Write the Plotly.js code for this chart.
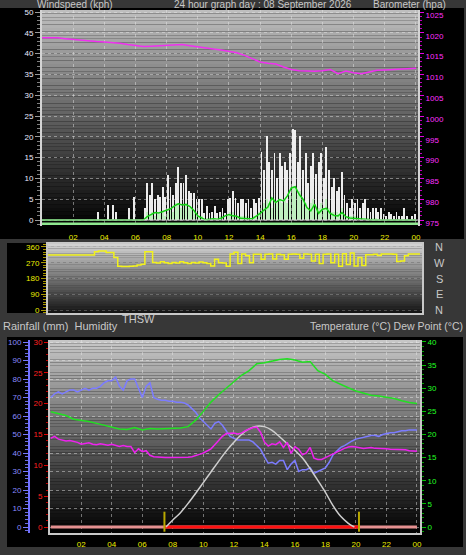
<!DOCTYPE html>
<html><head><meta charset="utf-8">
<script src="https://cdn.plot.ly/plotly-3.0.1.min.js"></script>
<style>html,body{margin:0;padding:0;background:#373737;}#chart{width:466px;height:555px;}</style>
</head><body><div id="chart"></div>
<script>
// ---------------- DATA ----------------
const hourTicks = [2,4,6,8,10,12,14,16,18,20,22,24];
const hourLabels = ['02','04','06','08','10','12','14','16','18','20','22','00'];
const dirTicks = [0,90,180,270,360];
const dirLetters = ['N','E','S','W','N'];

// wind gust (kph), 10-minute samples from 00:00
const windGust = [
 0,0,0,0,0,0, 0,0,0,0,0,0, 0,0,0,0,0,0, 0,0,0,2,0,0,
 0,3.5,0,3.5,2,0, 0,0,0,3,0,5.5, 0,0,0,3,9,6, 9,5,6,5.5,8,5.5,
 10.8,8,6,9,12.7,9, 9,10.8,7,6.5,6.5,5, 5,5,1.6,3.4,1.6,2, 3.4,1.6,2,3,1.6,5,
 5.3,7,5.3,4,5,5, 4,5,3,5,4,5.3, 16.4,12,20.2,14,12,16, 10,16,13,14,12,16,
 22,21.6,14,20.2,12,16, 9,13,16,11,14,16, 10,17.6,12,8,10,7, 8,11.6,6,4,3,5,
 4,5,3,4,5,3, 2,3,3,2,3,1.5, 1,2,1.5,1,2,1, 1,3,1,0,1,1.5
];
// wind speed (kph), 10-minute samples
const windSpeed = [
 0,0,0,0,0,0, 0,0,0,0,0,0, 0,0,0,0,0,0, 0,0,0,0,0,0,
 0,0,0,0,0,0, 0,0,0,0,0,0, 0,0,0,0,2,1, 2,1,2,1.5,2,1,
 2,3,2,4,4,3, 4,4,3,3,2,1, 1,1,0,0.5,0,0.5, 0.5,0,1,1,0,1,
 2,2,1,1,1,1, 1,1,0,1,1,2, 3,4,5,4,3,5, 4,5,4,5,4,6,
 8,8,6,7,5,4, 3,4,5,3,3,4, 3,5,3,2,2,2, 1,3,1,1,1,1,
 1,1,0.5,0.5,0.5,0.5, 0,0.5,0.5,0,0,0, 0,0,0,0,0,0, 0,0,0,0,0,0
];
// average wind (kph), 15-minute samples
const windAvg = [
 0,0,0,0,0,0,0,0,0,0, 0,0,0,0,0,0,0,0,0,0, 0,0,0,0,0,0,
 0,0.8,1.4,1.8,1.7,2.0,2.4,2.7,3.4,3.9,
 3.6,3.7,3.2,2.3,1.0,0.4,0,0.2,0.3,0.2,
 0.4,1.0,1.3,1.0,0.9,0.4,0.3,0.3,0.3,0.9,
 1.6,2.4,3.1,5.3,4.2,4.9,4.6,5.8,7.7,8.0,
 6.2,5.0,3.0,2.2,3.8,1.6,2.6,2.8,1.6,1.1,
 1.0,1.8,0.8,0.5,0.4,0.4,0.3,0.1,0,
 0,0,0,0,0,0,0,0,0,0,0,0
];
// barometer (hpa), 30-minute samples
const barometer = [
 1018.8,1018.8,1018.8,1018.6,1018.4,1018.2,1018.0,1017.9,1017.8,1017.7,
 1017.5,1017.2,1016.9,1016.7,1016.8,1016.9,1017.0,1017.1,1017.2,1016.9,
 1016.6,1016.4,1016.1,1015.9,1015.5,1015.2,1014.6,1013.8,1013.0,1012.7,
 1012.5,1011.8,1011.2,1010.9,1010.8,1010.8,1010.9,1011.2,1010.2,1010.8,
 1010.4,1010.2,1010.6,1011.0,1011.1,1011.2,1011.3,1011.5,1011.5
];
// wind direction (deg), 15-minute samples
const windDir = [
 314,314,314,314,314,314,314,314,314,314,314,314,
 333,337,337,328,328,300,250,248,248,250,
 252,257,262,333,333,271,268,275,270,265,
 272,268,276,270,266,272,268,274,270,266,
 252,290,270,268,250,320,330,265,320,310,
 270,318,318,290,318,320,292,318,316,290,
 318,320,318,295,320,318,280,318,265,318,
 320,270,318,250,322,260,325,252,300,254,
 315,315,318,312,320,320,320,318,277,280,
 310,320,320,320,320
];
// humidity (%), 15-minute samples
const humidity = [
 70,72,73,72,73,74,74,73,74,75,
 74,75,75,76,78,79,79,81,76,74,
 79,80,80,75,70,76,78,70,69,68.5,
 68.5,68,68,67.5,67.5,67,66,64,62,59,
 57,55,53,56,57,55,52,49,48,47,
 47,47,47,46,44,42,38,34.5,35,34,
 36,36,31,34,36,30,31,31,32,29,
 30,31,32,35,39,41,43,44,45.5,46.5,
 47.5,48,48.5,49,49.5,49.5,49,50,50.5,51,
 51,51.5,52,52,52.5,52.5,52.5
];
// temperature (°C), 30-minute samples
const temperature = [
 24.9,24.5,24.1,23.3,23.1,22.8,22.4,22.0,21.5,21.2,
 21.1,21.5,21.0,21.3,21.2,21.3,21.3,21.4,21.7,23.1,
 25.0,27.0,28.6,30.0,31.4,32.8,33.8,35.3,35.5,35.9,
 36.2,36.4,36.1,35.6,35.8,33.8,33.0,31.6,30.8,30.1,
 29.4,28.9,28.5,28.3,28.0,27.8,27.3,26.9,26.7
];
// dew point (°C), 15-minute samples
const dewPoint = [
 19.2,19.6,19.0,18.8,18.6,18.7,18.5,18.3,17.9,18.0,
 18.2,17.9,17.8,18.0,17.8,17.7,17.9,17.6,17.4,17.6,
 17.4,17.4,16.1,16.9,16.3,16.5,15.5,15.2,15.1,15.1,
 15.0,15.0,15.0,15.0,15.0,15.0,15.1,15.2,15.4,15.7,
 16.0,16.4,16.9,17.8,18.8,19.6,20.2,20.3,20.3,20.1,
 20.3,20.8,21.2,21.5,21.6,20.5,18.4,17.5,18.0,17.8,
 18.4,17.2,18.3,15.9,17.4,16.8,15.6,16.0,17.2,14.9,
 14.6,14.6,15.0,15.4,15.8,16.2,16.7,17.0,17.3,17.4,
 17.3,17.1,17.0,17.1,17.2,17.0,17.0,17.0,16.9,16.8,
 16.8,16.8,16.7,16.7,16.5,16.4,16.4
];
// THSW / sun curve (°C scale)
const thswHours = [7.55,8,8.5,9,9.5,10,10.5,11,11.5,12,12.5,13,13.5,14,14.5,15,15.5,16,16.5,17,17.5,18,18.5,19,19.5,19.9];
const thswValues = [0,1.5,3.1,5.1,7.3,9.6,11.9,14.2,16.4,18.3,20.0,21.2,21.8,21.7,20.9,19.5,18.0,16.6,14.9,12.6,10.1,7.5,4.6,2.3,0.8,0];
// rainfall (mm), hourly
const rainfall = [0,0,0,0,0,0,0,0,0,0,0,0,0,0,0,0,0,0,0,0,0,0,0,0,0];
const sunrise = 7.45, sunset = 20.2;

// ---------------- HELPERS ----------------
const W = 466, H = 555;
const px = v => v / W, py = v => 1 - v / H;
const times = (arr, step, off) => arr.map((_, i) => i * step + (off || 0));
const FONT = 'Liberation Sans, Arial, sans-serif';

function bands(xr, yr, top, bot, n) {
  const out = [];
  for (let i = 0; i < n; i++) {
    const t = (i + 0.5) / n;
    const c = top.map((v, k) => Math.round(v + (bot[k] - v) * t));
    out.push({type:'rect', xref:xr, yref:yr, x0:0, x1:1, y0:1-(i+1)/n, y1:1-i/n,
      fillcolor:`rgb(${c[0]},${c[1]},${c[2]})`, line:{width:0}, layer:'below'});
  }
  return out;
}
function panel(x0, y0, x1, y1, col) {
  return {type:'rect', xref:'paper', yref:'paper', x0:px(x0), x1:px(x1), y0:py(y1), y1:py(y0),
    fillcolor:col, line:{width:0}, layer:'below'};
}

// ---------------- TRACES ----------------
const traces = [
  {type:'bar', x:times(windGust,1/6,1/12), y:windGust, width:0.12, xaxis:'x', yaxis:'y',
   marker:{color:'rgba(248,248,248,0.95)', line:{width:0}}},
  {type:'bar', x:times(windSpeed,1/6,1/12), y:windSpeed, width:0.12, xaxis:'x', yaxis:'y',
   marker:{color:'rgba(190,240,190,0.95)', line:{width:0}}},
  {type:'scatter', mode:'lines', x:times(windAvg,0.25), y:windAvg, xaxis:'x', yaxis:'y',
   line:{color:'#12d012', width:1.5}},
  {type:'scatter', mode:'lines', x:times(barometer,0.5), y:barometer, xaxis:'x', yaxis:'y2',
   line:{color:'#f030f0', width:1.5}},
  {type:'scatter', mode:'lines', x:times(windDir,0.25), y:windDir, xaxis:'x2', yaxis:'y3',
   line:{color:'#f2f21c', width:1.5, shape:'hv'}},
  {type:'scatter', mode:'lines', x:times(rainfall,1), y:rainfall, xaxis:'x3', yaxis:'y4',
   line:{color:'#e49090', width:3}},
  {type:'scatter', mode:'lines', x:[sunrise, sunset], y:[rainfall[0], rainfall[0]], xaxis:'x3', yaxis:'y4',
   line:{color:'#ff1010', width:3}},
  {type:'scatter', mode:'lines', x:thswHours, y:thswValues, xaxis:'x3', yaxis:'y6',
   line:{color:'#cfcfcf', width:1.5, shape:'spline'}},
  {type:'scatter', mode:'lines', x:times(temperature,0.5), y:temperature, xaxis:'x3', yaxis:'y6',
   line:{color:'#22e022', width:1.5}},
  {type:'scatter', mode:'lines', x:times(dewPoint,0.25), y:dewPoint, xaxis:'x3', yaxis:'y6',
   line:{color:'#ee22ee', width:1.5}},
  {type:'scatter', mode:'lines', x:times(humidity,0.25), y:humidity, xaxis:'x3', yaxis:'y5',
   line:{color:'#7c7cff', width:1.5}}
];

// ---------------- LAYOUT ----------------
const grid = 'rgba(235,235,235,0.45)';
const tickFont = c => ({family:FONT, size:8, color:c});
const shapes = [
  panel(0, 8, 464, 239, '#000'),
  panel(7, 243, 48, 313, '#000'),
  panel(7, 337, 463, 547, '#000'),
  ...bands('x domain','y domain',[192,192,192],[0,0,0],60),
  ...bands('x2 domain','y3 domain',[212,212,212],[18,18,18],30),
  ...bands('x3 domain','y4 domain',[200,200,200],[0,0,0],60),
  {type:'line', xref:'x domain', yref:'y', x0:0, x1:1, y0:-0.9, y1:-0.9, line:{color:'#90e890', width:2.5}, layer:'above'},
  {type:'line', xref:'x domain', yref:'y', x0:0, x1:1, y0:0, y1:0, line:{color:'#d8d8d8', width:1}, layer:'above'},
  {type:'line', xref:'x3', yref:'y4', x0:sunrise, x1:sunrise, y0:-0.76, y1:2.48, line:{color:'#b8a800', width:2}, layer:'above'},
  {type:'line', xref:'x3', yref:'y4', x0:sunset, x1:sunset, y0:-0.76, y1:2.48, line:{color:'#b8a800', width:2}, layer:'above'}
];

const ann = (text, x, y, xa, size) => ({text, x:px(x), y:py(y), xref:'paper', yref:'paper', xanchor:xa||'left',
  yanchor:'middle', showarrow:false, font:{family:FONT, size:size||11, color:'#c8c8c8'}});
const annotations = [
  ann('Windspeed (kph)', 35, 4, 'left', 10),
  ann('24 hour graph day : 08 September 2026', 172, 4, 'left', 10),
  ann('Barometer (hpa)', 371, 4, 'left', 10),
  ann('THSW', 120, 319),
  ann('Rainfall (mm)  Humidity', 1, 326),
  ann('Temperature (°C) Dew Point (°C)', 465, 326, 'right', 10.5),
  ...dirTicks.map((d, i) => ({text:dirLetters[i], x:px(439), y:d, xref:'paper', yref:'y3',
    xanchor:'center', yanchor:'middle', showarrow:false, font:{family:FONT, size:11, color:'#c8c8c8'}}))
];

const layout = {
  width:W, height:H, margin:{l:0,r:0,t:0,b:0},
  paper_bgcolor:'#373737', plot_bgcolor:'rgba(0,0,0,0)',
  showlegend:false, hovermode:false, barmode:'overlay', bargap:0,
  font:{family:FONT, size:8, color:'#ddd'},
  xaxis:{domain:[px(42),px(418)], range:[0,24.13], anchor:'y', tickvals:hourTicks, ticktext:hourLabels,
    tickfont:tickFont('#ecec00'), ticks:'outside', ticklen:3, tickcolor:'rgba(0,0,0,0)',
    showgrid:true, gridcolor:grid, griddash:'dot', zeroline:false, showline:false, fixedrange:true},
  yaxis:{domain:[py(226),py(10)], range:[-1.44,50.5], anchor:'x', tick0:0, dtick:5,
    ticks:'outside', ticklen:5, tickcolor:'#9a9a9a', minor:{dtick:1, ticks:'outside', ticklen:3, tickcolor:'#808080', showgrid:false},
    tickfont:tickFont('#eaeaff'), showgrid:true, gridcolor:grid, griddash:'dot', zeroline:false,
    showline:true, linecolor:'#d4d4d4', linewidth:2},
  yaxis2:{overlaying:'y', side:'right', anchor:'x', range:[973.56,1025.5], tick0:1000, dtick:5,
    ticks:'outside', ticklen:4, tickcolor:'#e000e0', minor:{dtick:1, ticks:'outside', ticklen:2, tickcolor:'#c000c0', showgrid:false},
    tickfont:tickFont('#ff30ff'), ticklabelshift:3, showgrid:false, zeroline:false, showline:true, linecolor:'#d4d4d4', linewidth:2},
  xaxis2:{domain:[px(48),px(422)], range:[0,24.13], anchor:'y3', showticklabels:false, ticks:'',
    showgrid:false, zeroline:false, showline:true, mirror:true, linecolor:'#c8c8c8', linewidth:2},
  yaxis3:{domain:[py(313),py(244)], range:[-17,377], anchor:'x2', tickvals:dirTicks,
    ticks:'outside', ticklen:5, tickcolor:'#a89800', minor:{dtick:15, ticks:'outside', ticklen:3, tickcolor:'#a89800', showgrid:false},
    tickfont:tickFont('#ecec00'), showgrid:true, gridcolor:'rgba(235,235,235,0.25)', griddash:'dot', zeroline:false,
    showline:true, mirror:true, linecolor:'#c8c8c8', linewidth:2},
  xaxis3:{domain:[px(50),px(420)], range:[-0.05,24.2], anchor:'y4', tickvals:hourTicks, ticktext:hourLabels,
    tickfont:tickFont('#ecec00'), ticks:'outside', ticklen:2, tickcolor:'rgba(0,0,0,0)',
    showgrid:true, gridcolor:grid, griddash:'dot', zeroline:false, showline:true, linecolor:'#c8c8c8', linewidth:2},
  yaxis4:{domain:[py(533),py(340)], range:[-0.973,30.324], anchor:'x3', tick0:0, dtick:5,
    ticks:'outside', ticklen:4, tickcolor:'#e00000', minor:{dtick:1, ticks:'outside', ticklen:2, tickcolor:'#c00000', showgrid:false},
    tickfont:tickFont('#ff2020'), showgrid:false, zeroline:false, showline:true, linecolor:'#c8c8c8', linewidth:2},
  yaxis5:{overlaying:'y4', anchor:'free', position:px(29), side:'left', range:[-3.24,101.08], tick0:0, dtick:10,
    ticks:'outside', ticklen:5, tickcolor:'#7878ff', minor:{dtick:2, ticks:'outside', ticklen:3, tickcolor:'#6c6ce0', showgrid:false},
    tickfont:tickFont('#8a8aff'), showgrid:true, gridcolor:grid, griddash:'dot', zeroline:false,
    showline:true, linecolor:'#7070ff', linewidth:2},
  yaxis6:{overlaying:'y4', side:'right', anchor:'x3', range:[-1.297,40.43], tick0:0, dtick:5,
    ticks:'outside', ticklen:4, tickcolor:'#00c000', minor:{dtick:1, ticks:'outside', ticklen:2, tickcolor:'#00a000', showgrid:false},
    tickfont:tickFont('#22ff22'), showgrid:false, zeroline:false, showline:true, linecolor:'#c8c8c8', linewidth:2},
  shapes, annotations
};

Plotly.newPlot('chart', traces, layout, {staticPlot:true, displayModeBar:false});
</script></body></html>
